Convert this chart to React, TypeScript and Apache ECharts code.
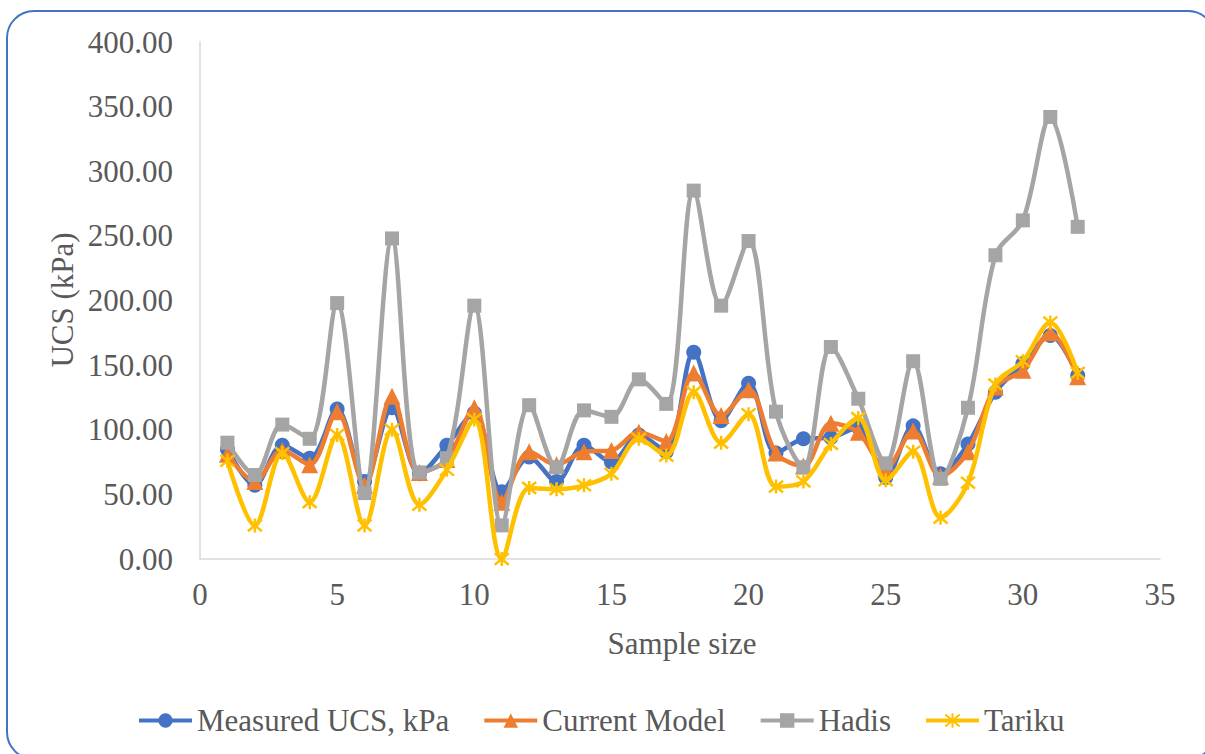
import React, { useEffect, useRef } from "react";
import * as echarts from "echarts";

const sampleIds = [1, 2, 3, 4, 5, 6, 7, 8, 9, 10, 11, 12, 13, 14, 15, 16, 17, 18, 19, 20, 21, 22, 23, 24, 25, 26, 27, 28, 29, 30, 31, 32];
const measuredUCS = [85, 57, 88, 78, 116, 60, 117, 66, 88, 113, 52, 79, 60, 88, 75, 96, 83, 160, 107, 136, 82, 93, 94, 102, 63, 103, 66, 89, 129, 151, 173, 142];
const currentModel = [81, 60, 84, 73, 114, 57, 126, 67, 77, 117, 44, 83, 73, 83, 84, 98, 91, 144, 111, 131, 82, 72, 105, 98, 70, 99, 64, 83, 133, 146, 175, 141];
const hadis = [90, 65, 104, 93, 198, 51, 248, 67, 78, 196, 26, 119, 71, 115, 110, 139, 120, 285, 196, 246, 114, 71, 164, 124, 74, 153, 62, 117, 235, 262, 342, 257];
const tariku = [76, 26, 82, 44, 96, 26, 100, 42, 69, 108, 0, 55, 54, 57, 66, 93, 80, 129, 90, 112, 56, 60, 89, 109, 61, 83, 32, 59, 135, 153, 183, 144];

const seriesNames = ["Measured UCS, kPa", "Current Model", "Hadis", "Tariku"];
const seriesColors = ["#4472C4", "#ED7D31", "#A5A5A5", "#FFC000"];
const xAxisTitle = "Sample size";
const yAxisTitle = "UCS (kPa)";

const FONT = "Liberation Serif";
const TEXT_COLOR = "#595959";
const ASTERISK = "path://M0,0L10,10M10,0L0,10M5,-1L5,11";

function pairs(values: number[]) {
  return sampleIds.map((id, i) => [id, values[i]]);
}

export default function App() {
  const ref = useRef<HTMLDivElement>(null);

  useEffect(() => {
    document.body.style.margin = "0";
    if (!ref.current) return;
    const chart = echarts.init(ref.current, undefined, { renderer: "svg" });

    const symbols = ["circle", "triangle", "rect", ASTERISK];
    const sizes = [15, 17, 14, 14];
    const datasets = [measuredUCS, currentModel, hadis, tariku];

    const series = datasets.map((vals, i) => ({
      name: seriesNames[i],
      type: "line",
      data: pairs(vals),
      smooth: 0.33,
      symbol: symbols[i],
      symbolSize: sizes[i],
      showSymbol: true,
      lineStyle: { width: 4.5, color: seriesColors[i] },
      itemStyle:
        i === 3
          ? { color: seriesColors[i], borderColor: seriesColors[i], borderWidth: 2.5 }
          : { color: seriesColors[i], borderWidth: 0 },
      emphasis: { disabled: true },
      z: 2 + i,
    }));

    chart.setOption({
      animation: false,
      backgroundColor: "#ffffff",
      textStyle: { fontFamily: FONT },
      graphic: [
        {
          type: "rect",
          shape: { x: 7, y: 11, width: 1208, height: 748, r: 27 },
          style: { fill: "none", stroke: "#4472C4", lineWidth: 2 },
          silent: true,
          z: 0,
        },
        {
          type: "text",
          x: 682,
          y: 643,
          style: {
            text: xAxisTitle,
            fontFamily: FONT,
            fontSize: 31,
            fill: TEXT_COLOR,
            align: "center",
            verticalAlign: "middle",
          },
          silent: true,
        },
        {
          type: "text",
          x: 62,
          y: 300,
          rotation: Math.PI / 2,
          style: {
            text: yAxisTitle,
            fontFamily: FONT,
            fontSize: 31,
            fill: TEXT_COLOR,
            align: "center",
            verticalAlign: "middle",
          },
          silent: true,
        },
      ],
      grid: { left: 200, right: 45, top: 42, bottom: 195 },
      xAxis: {
        type: "value",
        min: 0,
        max: 35,
        interval: 5,
        axisLine: { show: true, lineStyle: { color: "#D9D9D9", width: 1.5 } },
        axisTick: { show: false },
        splitLine: { show: false },
        axisLabel: { fontFamily: FONT, fontSize: 31, color: TEXT_COLOR, margin: 20 },
      },
      yAxis: {
        type: "value",
        min: 0,
        max: 400,
        interval: 50,
        axisLine: { show: true, lineStyle: { color: "#D9D9D9", width: 1.5 } },
        axisTick: { show: false },
        splitLine: { show: false },
        axisLabel: {
          fontFamily: FONT,
          fontSize: 31,
          color: TEXT_COLOR,
          margin: 27,
          formatter: (v: number) => v.toFixed(2),
        },
      },
      legend: {
        data: seriesNames,
        left: 132,
        top: 700,
        itemWidth: 53,
        itemHeight: 18,
        itemGap: 33,
        lineStyle: { width: 4 },
        textStyle: { fontFamily: FONT, fontSize: 31, color: TEXT_COLOR },
      },
      series,
    });

    return () => chart.dispose();
  }, []);

  return (
    <div
      ref={ref}
      style={{ position: "fixed", left: 0, top: 0, width: 1205, height: 754, background: "#fff" }}
    />
  );
}
